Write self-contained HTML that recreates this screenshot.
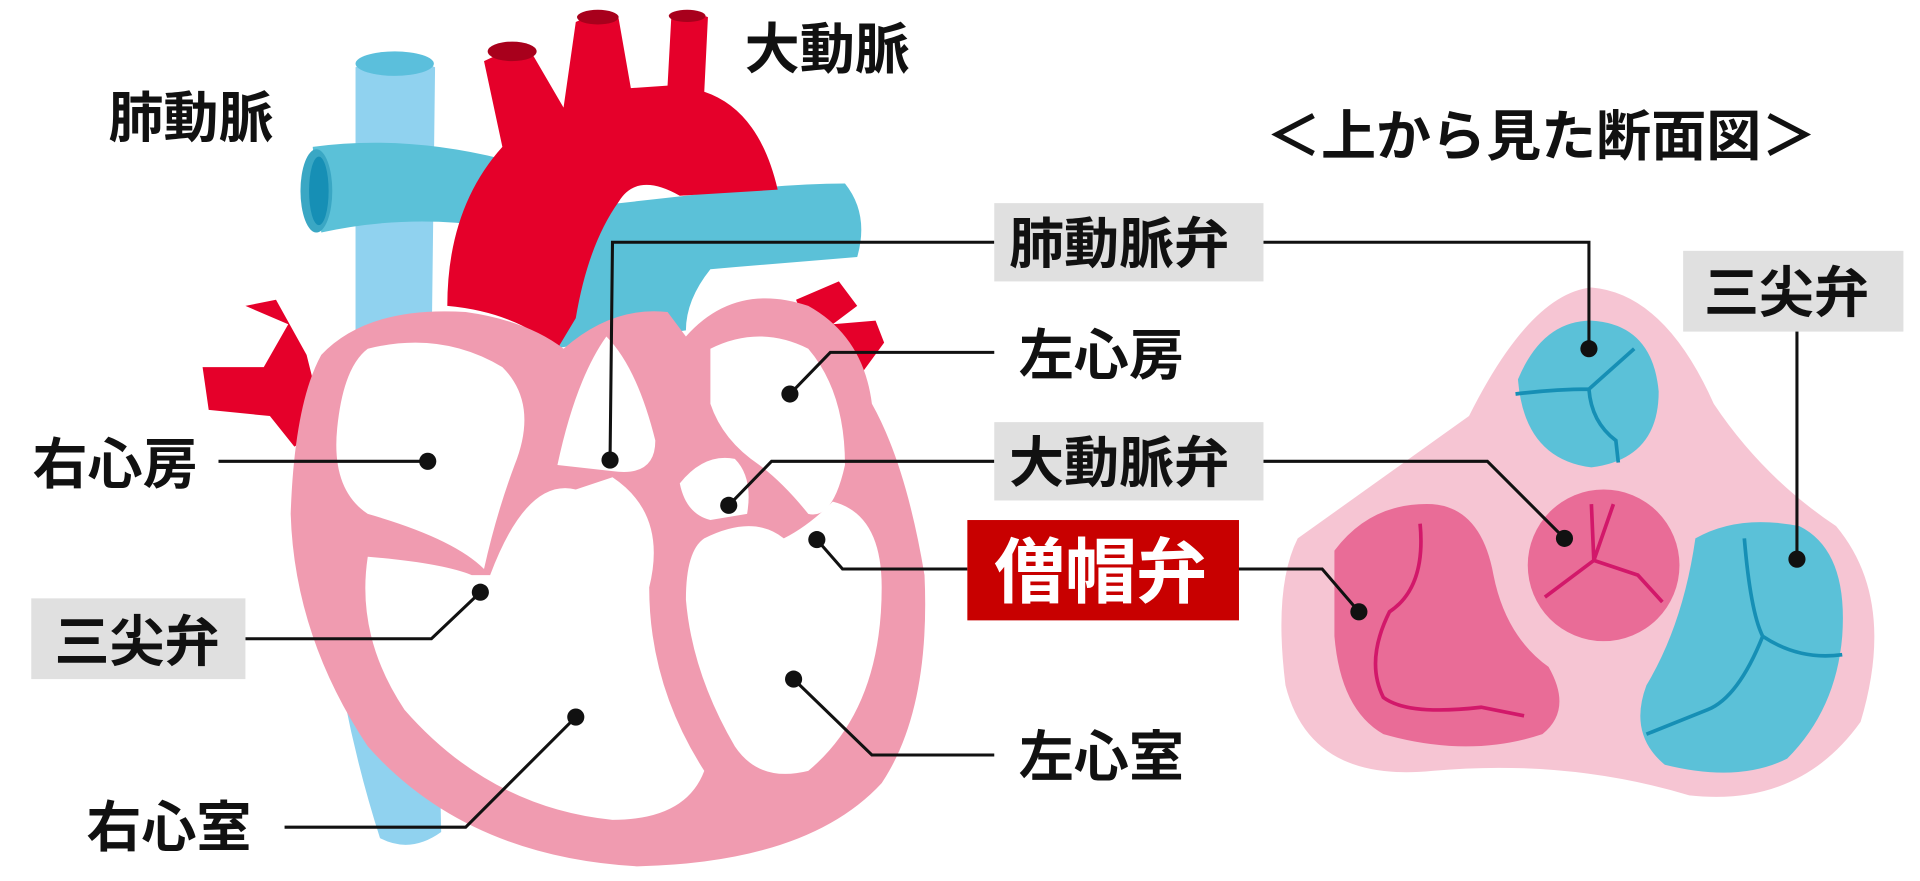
<!DOCTYPE html>
<html><head><meta charset="utf-8"><style>
html,body{margin:0;padding:0;background:#fff;}
svg{display:block}
text{font-family:"Liberation Sans","Noto Sans CJK JP",sans-serif;font-weight:bold;fill:#111}
</style></head><body>
<svg width="1920" height="881" viewBox="0 0 1568 720" xmlns="http://www.w3.org/2000/svg">
<!-- vena cava -->
<path d="M290 55 Q322 40 355 55 L352 300 L360 680 Q335 698 310 685 Q270 560 262 420 L290 300 Z" fill="#90d2ef"/>
<ellipse cx="322" cy="52" rx="32" ry="10" fill="#5bbfdc"/>
<!-- small red vessels left -->
<path d="M165 300 L215 300 L235 265 L200 250 L225 245 L250 290 L265 350 L240 365 L220 340 L170 335 Z" fill="#e5002a"/>
<!-- pulmonary artery -->
<path d="M255 120 Q330 110 410 130 L470 170 L560 160 Q640 150 690 150 Q710 175 700 210 Q640 215 580 220 Q560 245 560 270 L450 285 Q470 230 480 205 L400 185 Q330 175 262 190 Z" fill="#5bc1d8"/>
<ellipse cx="258" cy="156" rx="13" ry="34" fill="#3aa7c4"/>
<ellipse cx="260" cy="156" rx="8" ry="28" fill="#168fb5"/>
<!-- aorta -->
<path d="M365 250 Q365 170 410 120 L395 50 Q425 35 435 45 L460 88 L470 18 Q490 8 505 15 L515 72 L545 70 L548 15 Q565 8 578 14 L575 75 Q620 90 635 155 L555 160 Q520 140 505 165 Q480 200 470 260 L455 285 Q420 255 365 250 Z" fill="#e5002a"/>
<ellipse cx="418" cy="42" rx="20" ry="8" fill="#a8001c"/>
<ellipse cx="488" cy="14" rx="17" ry="6" fill="#a8001c"/>
<ellipse cx="561" cy="13" rx="15" ry="5" fill="#a8001c"/>
<path d="M650 245 L685 230 L700 250 L680 265 L715 262 L722 280 L700 310 L670 295 Z" fill="#e5002a"/>
<!-- heart body -->
<path d="M262 290 Q300 250 380 255 Q430 262 460 285 Q500 250 545 255 L560 275 Q600 230 660 250 Q705 275 712 330 Q740 380 755 470 Q760 580 720 640 Q660 705 520 708 Q380 700 300 610 Q240 520 237 420 Q240 330 262 290 Z" fill="#f09bb0"/>
<!-- chambers -->
<path d="M300 285 Q360 270 410 300 Q440 330 420 380 Q405 420 395 465 Q370 440 300 420 Q270 400 275 350 Q280 300 300 285 Z" fill="#fff"/>
<path d="M300 455 Q360 460 385 470 L400 470 Q430 390 470 400 L500 390 Q545 420 530 480 Q530 560 575 630 Q560 670 500 670 Q400 660 330 580 Q290 520 300 455 Z" fill="#fff"/>
<path d="M455 380 Q470 310 495 275 Q520 300 535 360 Q535 390 500 385 Z" fill="#fff"/>
<path d="M580 285 Q620 265 660 285 Q690 320 690 380 Q680 425 660 420 Q640 395 620 380 Q590 360 580 330 Z" fill="#fff"/>
<path d="M555 395 Q575 370 600 375 Q615 390 610 420 L580 425 Q560 420 555 395 Z" fill="#fff"/>
<path d="M575 440 Q615 420 640 440 Q660 430 680 410 Q720 420 720 480 Q720 580 660 630 Q620 640 600 610 Q565 550 560 490 Q560 450 575 440 Z" fill="#fff"/>
<!-- cross-section -->
<path d="M1060 440 Q1130 390 1200 340 Q1250 240 1300 235 Q1360 240 1400 330 Q1440 390 1500 430 Q1550 490 1520 590 Q1470 660 1380 650 Q1280 620 1170 630 Q1070 640 1050 560 Q1040 480 1060 440 Z" fill="#f6c5d3"/>
<path d="M1240 310 Q1260 262 1300 262 Q1350 265 1355 320 Q1355 375 1300 382 Q1245 375 1240 310 Z" fill="#5bc1d8"/>
<path d="M1238 322 Q1270 318 1298 318 L1335 285 M1298 318 Q1300 345 1320 360 L1322 378" stroke="#168fb5" stroke-width="3" fill="none"/>
<circle cx="1310" cy="462" r="62" fill="#e96c97"/>
<path d="M1300 412 L1302 458 L1262 488 M1302 458 L1338 470 L1358 492 M1302 458 L1318 412" stroke="#d2186a" stroke-width="3" fill="none"/>
<path d="M1090 450 Q1120 410 1170 412 Q1210 415 1220 470 Q1230 520 1265 545 Q1285 580 1260 600 Q1200 620 1130 600 Q1095 580 1090 520 Z" fill="#e96c97"/>
<path d="M1160 428 Q1165 480 1135 500 Q1115 540 1130 570 Q1150 585 1210 578 L1245 585" stroke="#d2186a" stroke-width="3" fill="none"/>
<path d="M1385 440 Q1420 420 1470 430 Q1510 450 1505 520 Q1500 580 1460 620 Q1420 640 1360 625 Q1330 600 1345 560 Q1375 510 1385 440 Z" fill="#5bc1d8"/>
<path d="M1425 440 Q1430 500 1440 520 Q1470 540 1505 535 M1440 520 Q1420 570 1395 580 L1345 600" stroke="#168fb5" stroke-width="3" fill="none"/>
<!-- leaders -->
<g stroke="#111" stroke-width="2.5" fill="none">
<path d="M178 377 L349 377"/>
<path d="M200 522 L352 522 L392 484"/>
<path d="M232 676 L380 676 L470 586"/>
<path d="M812 198 L500 198 L498 376"/>
<path d="M812 288 L678 288 L645 322"/>
<path d="M812 377 L630 377 L595 413"/>
<path d="M790 465 L688 465 L667 441"/>
<path d="M812 617 L712 617 L648 555"/>
<path d="M1032 198 L1298 198 L1298 285"/>
<path d="M1032 377 L1215 377 L1278 440"/>
<path d="M1010 465 L1080 465 L1110 500"/>
<path d="M1468 270 L1468 457"/>
</g>
<g fill="#111">
<circle cx="349" cy="377" r="7"/><circle cx="392" cy="484" r="7"/><circle cx="470" cy="586" r="7"/>
<circle cx="498" cy="376" r="7"/><circle cx="645" cy="322" r="7"/><circle cx="595" cy="413" r="7"/>
<circle cx="667" cy="441" r="7"/><circle cx="648" cy="555" r="7"/>
<circle cx="1298" cy="285" r="7"/><circle cx="1278" cy="440" r="7"/>
<circle cx="1110" cy="500" r="7"/><circle cx="1468" cy="457" r="7"/>
</g>
<!-- label boxes -->
<rect x="812" y="166" width="220" height="64" fill="#e0e0e0"/>
<rect x="812" y="345" width="220" height="64" fill="#e0e0e0"/>
<rect x="25" y="489" width="175" height="66" fill="#e0e0e0"/>
<rect x="1375" y="205" width="180" height="66" fill="#e0e0e0"/>
<rect x="790" y="425" width="222" height="82" fill="#c80000"/>
<g font-size="45">
<text x="88" y="112">肺動脈</text>
<text x="608" y="56">大動脈</text>
<text x="1034" y="127">＜上から見た断面図＞</text>
<text x="824" y="215">肺動脈弁</text>
<text x="832" y="306">左心房</text>
<text x="26" y="395">右心房</text>
<text x="824" y="394">大動脈弁</text>
<text x="44" y="540">三尖弁</text>
<text x="1392" y="255">三尖弁</text>
<text x="832" y="634">左心室</text>
<text x="70" y="692">右心室</text>
</g>
<text x="812" y="488" font-size="58" style="fill:#fff">僧帽弁</text>
</svg>
</body></html>
